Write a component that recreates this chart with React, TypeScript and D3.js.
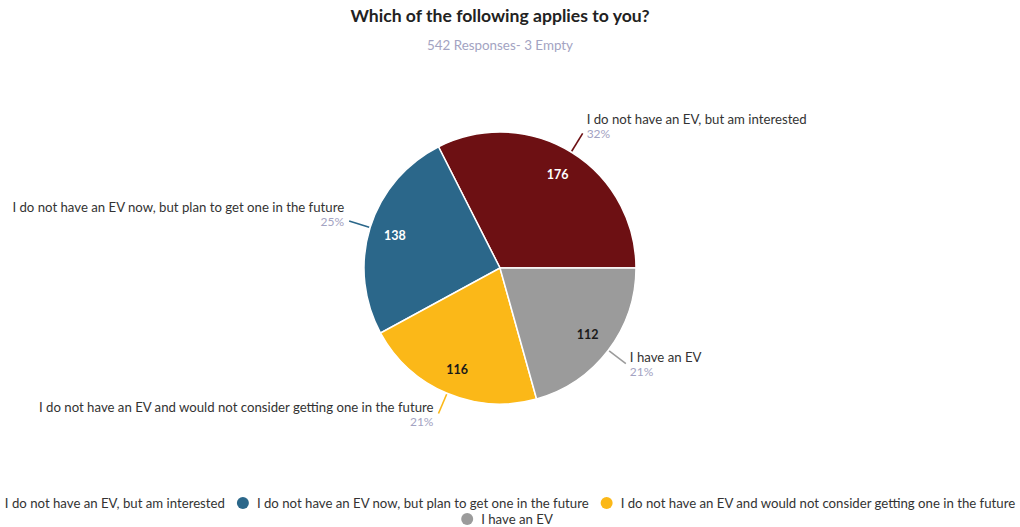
import React, { useEffect, useRef } from 'react';
import * as d3 from 'd3';

const categories = [
  'I do not have an EV, but am interested',
  'I do not have an EV now, but plan to get one in the future',
  'I do not have an EV and would not consider getting one in the future',
  'I have an EV',
];
const counts = [176, 138, 116, 112];
const percentLabels = ['32%', '25%', '21%', '21%'];
const colors = ['#6d1013', '#2b678a', '#fbb818', '#9b9b9b'];
const valueTextColors = ['#ffffff', '#ffffff', '#1a1a1a', '#1a1a1a'];
const legendRows = [[0, 1, 2], [3]];
const title = 'Which of the following applies to you?';
const subtitle = '542 Responses- 3 Empty';

const W = 1020;
const H = 527;
const FONT = 'Lato, "Open Sans", sans-serif';
const LABEL_SIZE = 13.2;

export default function App() {
  const ref = useRef<SVGSVGElement | null>(null);

  useEffect(() => {
    const svg = d3.select(ref.current);
    svg.selectAll('*').remove();

    const cx = 500;
    const cy = 268;
    const R = 136;

    svg.append('text')
      .attr('x', cx).attr('y', 22)
      .attr('text-anchor', 'middle')
      .attr('font-family', FONT)
      .attr('font-size', 17.6)
      .attr('font-weight', 700)
      .attr('fill', '#222')
      .text(title);

    svg.append('text')
      .attr('x', cx).attr('y', 50)
      .attr('text-anchor', 'middle')
      .attr('font-family', FONT)
      .attr('font-size', 13.4)
      .attr('fill', '#a3a3c2')
      .text(subtitle);

    const pie = d3.pie<number>()
      .sort(null)
      .value((d) => d)
      .startAngle(Math.PI / 2)
      .endAngle(Math.PI / 2 - 2 * Math.PI);
    const arcs = pie(counts);
    const arc = d3.arc<d3.PieArcDatum<number>>().innerRadius(0).outerRadius(R);

    const g = svg.append('g').attr('transform', `translate(${cx},${cy})`);

    g.selectAll('path.slice')
      .data(arcs)
      .enter()
      .append('path')
      .attr('class', 'slice')
      .attr('d', arc as any)
      .attr('fill', (_d, i) => colors[i])
      .attr('stroke', '#ffffff')
      .attr('stroke-width', 1.5);

    const pos = (a: number, r: number) => [Math.sin(a) * r, -Math.cos(a) * r];

    arcs.forEach((d, i) => {
      const mid = (d.startAngle + d.endAngle) / 2;
      const [vx, vy] = pos(mid, 110);
      g.append('text')
        .attr('x', vx).attr('y', vy)
        .attr('text-anchor', 'middle')
        .attr('dominant-baseline', 'central')
        .attr('font-family', FONT)
        .attr('font-size', 12.5)
        .attr('font-weight', 700)
        .attr('fill', valueTextColors[i])
        .text(String(counts[i]));

      const [x0, y0] = pos(mid, R + 1);
      const [x1, y1] = pos(mid, 158);
      g.append('line')
        .attr('x1', x0).attr('y1', y0)
        .attr('x2', x1).attr('y2', y1)
        .attr('stroke', colors[i])
        .attr('stroke-width', 1.6);

      const right = Math.sin(mid) > 0;
      const top = -Math.cos(mid) < 0;
      const tx = right ? x1 + 4 : x1 - 5;
      const nameY = top ? y1 - 14 : y1 - 7;
      const pctY = top ? y1 : y1 + 8;
      g.append('text')
        .attr('x', tx).attr('y', nameY)
        .attr('text-anchor', right ? 'start' : 'end')
        .attr('dominant-baseline', 'central')
        .attr('font-family', FONT)
        .attr('font-size', LABEL_SIZE)
        .attr('fill', '#333')
        .text(categories[i]);
      g.append('text')
        .attr('x', tx).attr('y', pctY)
        .attr('text-anchor', right ? 'start' : 'end')
        .attr('dominant-baseline', 'central')
        .attr('font-family', FONT)
        .attr('font-size', 12)
        .attr('fill', '#a3a3c2')
        .text(percentLabels[i]);
    });

    // legend
    const rowYs = [503, 519];
    const markerR = 6;
    const markerGap = 20;
    const itemGap = 12;
    legendRows.forEach((row, ri) => {
      const lg = svg.append('g');
      let x = 0;
      row.forEach((i) => {
        const t = lg.append('text')
          .attr('y', rowYs[ri])
          .attr('dominant-baseline', 'central')
          .attr('font-family', FONT)
          .attr('font-size', LABEL_SIZE)
          .attr('fill', '#333')
          .text(categories[i]);
        const w = (t.node() as SVGTextElement).getComputedTextLength();
        t.attr('x', x + markerGap);
        lg.append('circle')
          .attr('cx', x + markerR)
          .attr('cy', rowYs[ri])
          .attr('r', markerR)
          .attr('fill', colors[i]);
        x += markerGap + w + itemGap;
      });
      const total = x - itemGap;
      lg.attr('transform', `translate(${cx - total / 2 + (ri === 0 ? 0 : 7)},0)`);
    });
  }, []);

  return (
    <svg
      ref={ref}
      width={W}
      height={H}
      style={{ position: 'absolute', left: 0, top: 0, background: '#fff' }}
    />
  );
}
